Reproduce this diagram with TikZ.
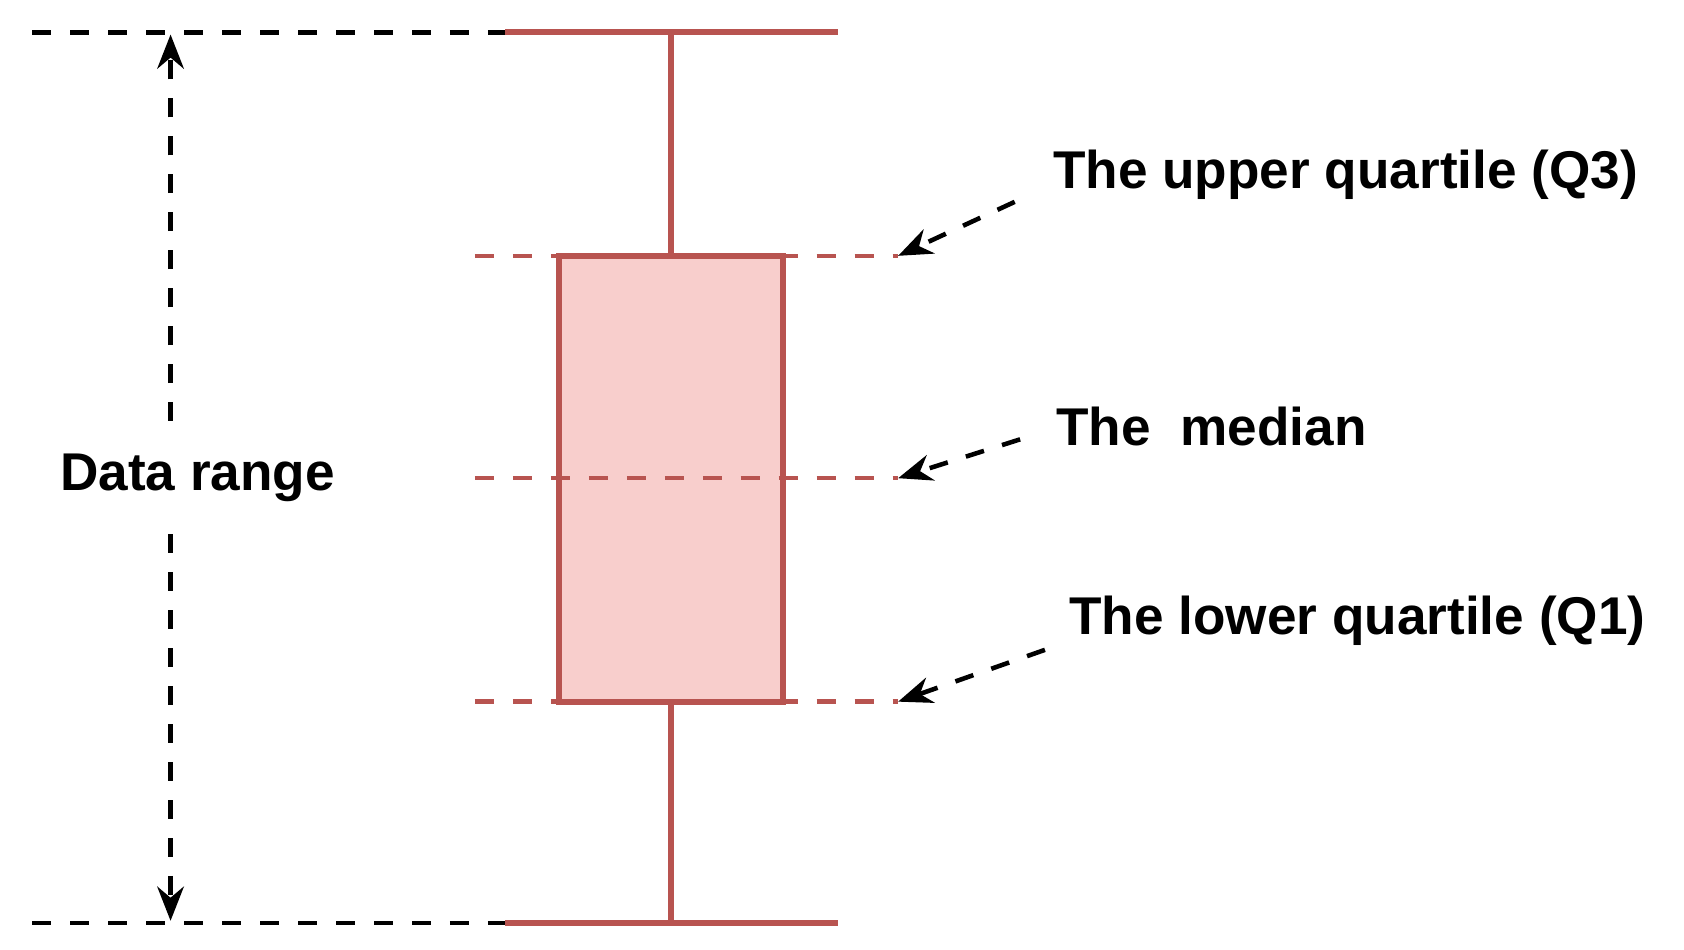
\documentclass[tikz,border=0pt]{standalone}
\usepackage{fontspec}
\setmainfont{Liberation Sans}
\usetikzlibrary{positioning,arrows.meta}
\definecolor{boxred}{RGB}{184,84,80}
\definecolor{boxfill}{RGB}{248,206,204}
\begin{document}
\begin{tikzpicture}[x=0.01cm,y=-0.01cm,
    % styles
    whisker/.style={draw=boxred, line width=1.6pt},
    reddash/.style={draw=boxred, line width=1.2pt, dash pattern=on 5pt off 5pt},
    blackdash/.style={draw=black, line width=1.2pt, dash pattern=on 5pt off 5pt},
    pointer/.style={blackdash, -{Stealth[length=9pt,width=7pt]}},
    label/.style={font=\fontsize{14}{17}\selectfont\bfseries, anchor=west, inner sep=0pt},
    ]
    \useasboundingbox (0,0) rectangle (1560,880);
    %Coordinates
    \coordinate (top) at (622,30);
    \coordinate (bot) at (622,855);
    \coordinate (q3) at (622,237);
    \coordinate (q1) at (622,650);
    \coordinate (tl) at (30,30);
    \coordinate (bl) at (30,855);
    \coordinate (tc) at (468,30);
    \coordinate (bc) at (468,855);
    \coordinate (tr) at (776,30);
    \coordinate (br) at (776,855);
    \coordinate (q3l) at (440,237);
    \coordinate (q3r) at (832,237);
    \coordinate (ml) at (440,443);
    \coordinate (mr) at (832,443);
    \coordinate (q1l) at (440,650);
    \coordinate (q1r) at (832,650);
    %Box
    \draw[whisker, fill=boxfill] (518,237) rectangle (725,650);
    \draw[whisker] (top) -- (q3);
    \draw[whisker] (q1) -- (bot);
    \draw[whisker] (tc) -- (tr);
    \draw[whisker] (bc) -- (br);
    \draw[reddash] (q3l) -- (q3r);
    \draw[reddash] (ml) -- (mr);
    \draw[reddash] (q1l) -- (q1r);
    \draw[blackdash] (tl) -- (tc);
    \draw[blackdash] (bl) -- (bc);
    %Data range
    \node[label, anchor=center] (range) at (183,443) {Data range};
    \coordinate (rt) at (158,32);
    \coordinate (rb) at (158,853);
    \draw[pointer] (158,390) -- (rt);
    \draw[pointer] (158,495) -- (rb);
    %Labels
    \node[label] (lq3) at (975,162) {The upper quartile (Q3)};
    \node[label] (lmed) at (978,395) {The\ \ median};
    \node[label] (lq1) at (990,575) {The lower quartile (Q1)};
    \draw[pointer] (940,187) -- (q3r);
    \draw[pointer] (945,407) -- (mr);
    \draw[pointer] (968,602) -- (q1r);
\end{tikzpicture}
\end{document}
